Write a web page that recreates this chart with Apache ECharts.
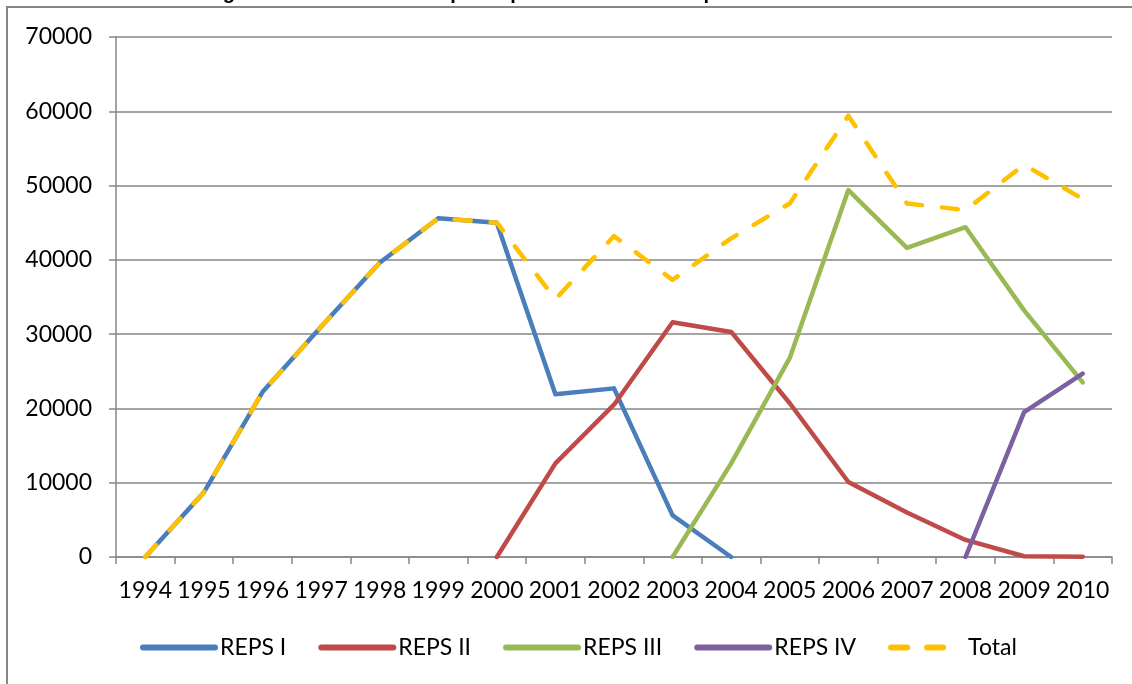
<!DOCTYPE html>
<html>
<head>
<meta charset="utf-8">
<script src="https://cdn.jsdelivr.net/npm/echarts@6/dist/echarts.min.js"></script>
<style>
  html, body { margin: 0; padding: 0; overflow: hidden; background: #fff; }
  #chart { width: 1132px; height: 684px; }
</style>
</head>
<body>
<div id="chart"></div>
<script>
// years on the x axis
var years = ['1994', '1995', '1996', '1997', '1998', '1999', '2000', '2001', '2002',
    '2003', '2004', '2005', '2006', '2007', '2008', '2009', '2010'];

// values, null where a phase has no data
var repsI = [0, 8700, 22200, 31000, 39600, 45600, 45000, 21900, 22700, 5600, 0,
    null, null, null, null, null, null];
var repsII = [null, null, null, null, null, null, 0, 12600, 20500, 31600, 30300,
    20700, 10100, 6000, 2300, 100, 50];
var repsIII = [null, null, null, null, null, null, null, null, null, 0, 12600,
    26800, 49400, 41600, 44400, 33200, 23500];
var repsIV = [null, null, null, null, null, null, null, null, null, null, null,
    null, null, null, 0, 19500, 24700];
var total = [0, 8700, 22200, 31000, 39600, 45600, 45000, 34700, 43200, 37300, 42900,
    47600, 59400, 47600, 46700, 52800, 48200];

var yTicks = [0, 10000, 20000, 30000, 40000, 50000, 60000, 70000];

var names = ['REPS I', 'REPS II', 'REPS III', 'REPS IV', 'Total'];
var colors = ['#4A7EBB', '#BE4B48', '#98B954', '#7D60A0', '#FFC000'];

var font = 'Lato, "Liberation Sans", sans-serif';
var gray = '#868686';

function lineSeries(name, data, color, dashed) {
    return {
        type: 'line',
        name: name,
        data: data,
        symbol: 'none',
        connectNulls: false,
        animation: false,
        lineStyle: {
            color: color,
            width: 4.5,
            cap: 'round',
            join: 'round',
            type: dashed ? [16, 20] : 'solid'
        },
        itemStyle: { color: color }
    };
}

var chart = echarts.init(document.getElementById('chart'));
chart.setOption({
    animation: false,
    title: {
        text: 'Figure 2: Total number of participants in each REPS phase',
        left: 200,
        top: -22,
        textStyle: { fontFamily: '"Liberation Sans", sans-serif', fontWeight: 'bold', fontSize: 20, color: '#000' }
    },
    graphic: [{
        type: 'rect',
        shape: { x: 7, y: 7, width: 1300, height: 900 },
        style: { fill: '#fff', stroke: gray, lineWidth: 2 },
        z: -10,
        silent: true
    }],
    grid: { left: 116, right: 20, top: 37, bottom: 127 },
    legend: {
        data: names,
        left: 135,
        top: 631,
        itemWidth: 72,
        itemHeight: 8,
        itemGap: 32,
        itemStyle: { opacity: 0 },
        lineStyle: { width: 6, cap: 'round' },
        textStyle: { fontFamily: font, fontSize: 23, color: '#000' }
    },
    xAxis: {
        type: 'category',
        data: years,
        boundaryGap: true,
        axisLine: { lineStyle: { color: gray, width: 1.5 } },
        axisTick: { show: true, length: 7, lineStyle: { color: gray, width: 1.5 } },
        axisLabel: { interval: 0, margin: 22, fontFamily: font, fontSize: 23, color: '#000' }
    },
    yAxis: {
        type: 'value',
        min: yTicks[0],
        max: yTicks[yTicks.length - 1],
        interval: 10000,
        axisLine: { show: true, lineStyle: { color: gray, width: 1.5 } },
        axisTick: { show: true, length: 7, lineStyle: { color: gray, width: 1.5 } },
        splitLine: { lineStyle: { color: gray, width: 1.5 } },
        axisLabel: {
            margin: 24,
            fontFamily: font,
            fontSize: 23,
            color: '#000',
            formatter: function (v) { return String(v); }
        }
    },
    series: [
        lineSeries(names[0], repsI, colors[0], false),
        lineSeries(names[1], repsII, colors[1], false),
        lineSeries(names[2], repsIII, colors[2], false),
        lineSeries(names[3], repsIV, colors[3], false),
        lineSeries(names[4], total, colors[4], true)
    ]
});
</script>
</body>
</html>
